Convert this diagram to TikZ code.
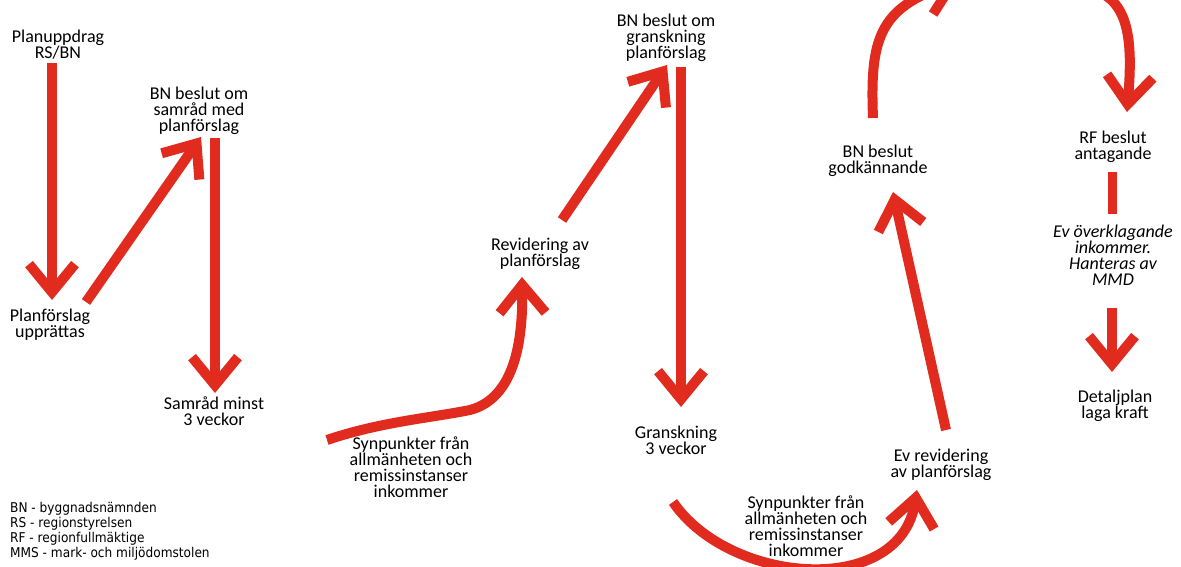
\documentclass[tikz,border=0pt]{standalone}
\usepackage{fontspec}
\setmainfont{Carlito}
\newfontfamily\legendfont[FakeStretch=0.9]{DejaVu Sans}
\usetikzlibrary{arrows.meta}
\definecolor{planred}{RGB}{224,43,30}

\begin{document}
\begin{tikzpicture}[x=1pt,y=-1pt,
  txt/.style={align=center,inner sep=0pt,font=\fontsize{18}{16}\selectfont},
  note/.style={txt,font=\fontsize{18}{16}\selectfont\itshape},
  arr/.style={draw=planred,line width=10pt,-{Straight Barb[length=28pt,width=46pt,sharp]}},
  bar/.style={draw=planred,line width=9pt}]
  \useasboundingbox (0,0) rectangle (1181,566);

  \node[txt] (plan) at (58,45) {Planuppdrag\\RS/BN};
  \node[txt] (upp) at (50,325) {Planförslag\\upprättas};
  \node[txt] (samr) at (199,111) {BN beslut om\\samråd med\\planförslag};
  \node[txt] (minst) at (214,411) {Samråd minst\\3 veckor};
  \node[txt] (syn1) at (411,467) {Synpunkter från\\allmänheten och\\remissinstanser\\inkommer};
  \node[txt] (rev) at (540,254) {Revidering av\\planförslag};
  \node[txt] (gbes) at (666,38) {BN beslut om\\granskning\\planförslag};
  \node[txt] (gransk) at (676,440) {Granskning\\3 veckor};
  \node[txt] (syn2) at (806,526) {Synpunkter från\\allmänheten och\\remissinstanser\\inkommer};
  \node[txt] (evrev) at (941,465) {Ev revidering\\av planförslag};
  \node[txt] (godk) at (878,161) {BN beslut\\godkännande};
  \coordinate (antag) at (1020,-20); % label above the top edge
  \node[txt] (rf) at (1113,147) {RF beslut\\antagande};
  \node[note] (overk) at (1113,255) {Ev överklagande\\inkommer.\\Hanteras av\\MMD};
  \node[txt] (laga) at (1115,406) {Detaljplan\\laga kraft};

  \node[anchor=north west,align=left,inner sep=0pt,font=\legendfont\fontsize{13.5}{15}\selectfont] (legend) at (10,502)
    {BN - byggnadsnämnden\\RS - regionstyrelsen\\RF - regionfullmäktige\\MMS - mark- och miljödomstolen};

  \draw[arr] ([shift={(-6,18)}]plan.center) -- ([shift={(2,-25)}]upp.center);
  \draw[arr] ([shift={(36,-23)}]upp.center) -- ([shift={(2,26)}]samr.center);
  \draw[arr] ([shift={(16,27)}]samr.center) -- ([shift={(1,-18)}]minst.center);
  \draw[arr] ([shift={(-84,-27)}]syn1.center) .. controls (380,422) and (430,418) .. (470,410)
    .. controls (515,398) and (523,340) .. ([shift={(-18,23)}]rev.center);
  \draw[arr] ([shift={(22,-34)}]rev.center) -- ([shift={(1,27)}]gbes.center);
  \draw[arr] ([shift={(15,29)}]gbes.center) -- ([shift={(5,-33)}]gransk.center);
  \draw[arr] ([shift={(-3,62)}]gransk.center) .. controls (730,585) and (900,598) .. ([shift={(-24,25)}]evrev.center);
  \draw[arr] ([shift={(5,-35)}]evrev.center) -- ([shift={(15,31)}]godk.center);
  \draw[arr] ([shift={(-5,-43)}]godk.center) .. controls (870,40) and (878,8) .. ([shift={(-60,1)}]antag);
  \draw[arr] ([shift={(65,8)}]antag) .. controls (1130,-5) and (1133,40) .. ([shift={(14,-35)}]rf.center);
  \draw[bar] ([shift={(-1,25)}]rf.center) -- ([shift={(-1,-41)}]overk.center);
  \draw[arr] ([shift={(-1,53)}]overk.center) -- ([shift={(-3,-34)}]laga.center);
\end{tikzpicture}
\end{document}
